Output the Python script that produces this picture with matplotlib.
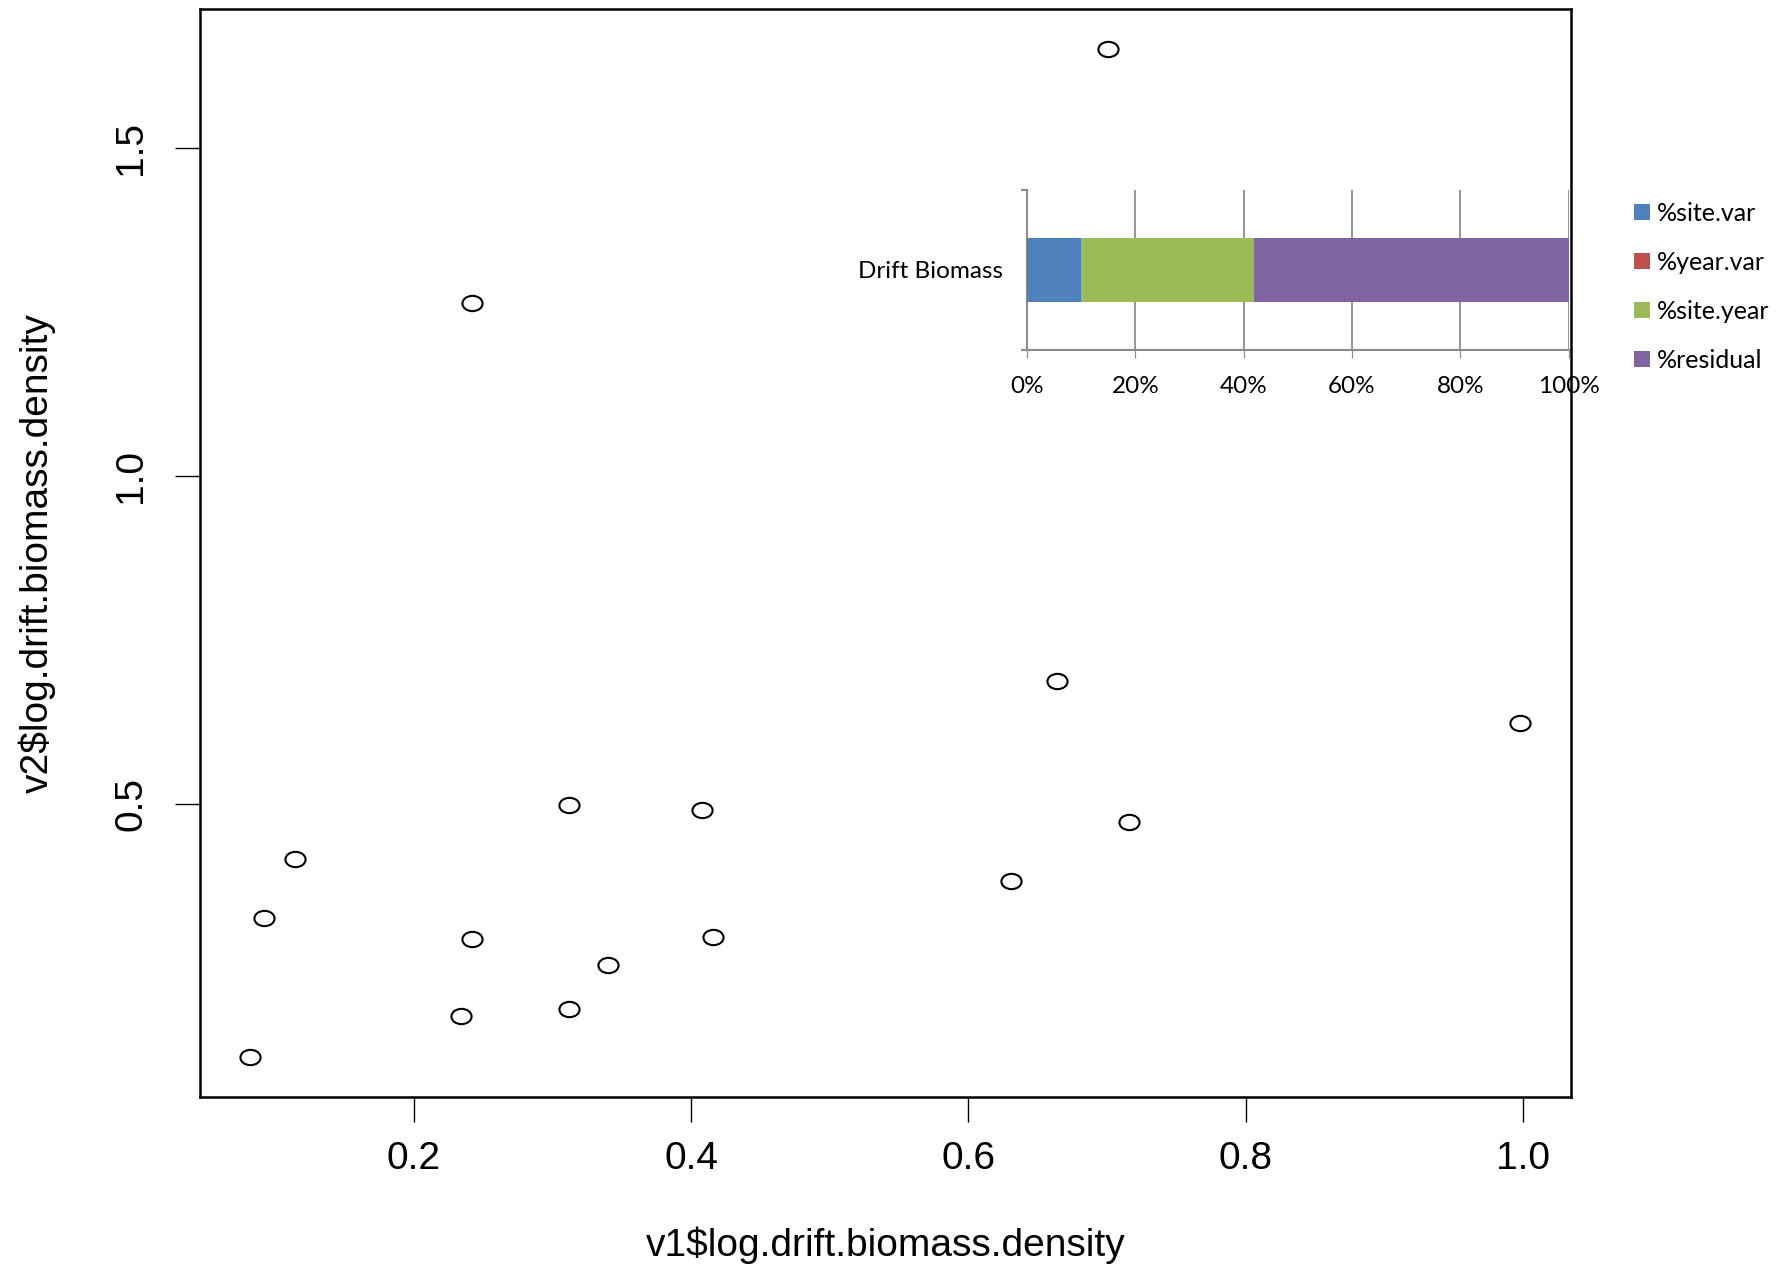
import matplotlib
matplotlib.use("Agg")
import matplotlib.pyplot as plt
from matplotlib.path import Path

# scatter: log drift biomass density, period 1 vs period 2
v1 = [0.701, 0.242, 0.664, 0.998, 0.312, 0.408, 0.716, 0.114,
      0.631, 0.092, 0.242, 0.416, 0.340, 0.234, 0.312, 0.082]
v2 = [1.650, 1.263, 0.687, 0.624, 0.498, 0.491, 0.472, 0.417,
      0.383, 0.326, 0.295, 0.298, 0.255, 0.177, 0.187, 0.115]

# variance partition for drift biomass (percent)
var_labels = ["%site.var", "%year.var", "%site.year", "%residual"]
var_values = [10, 0, 32, 58]
var_colors = ["#4F81BD", "#C0504D", "#9BBB59", "#8064A2"]
pct_ticks = [0, 20, 40, 60, 80, 100]

W, H = 1777, 1268
fig = plt.figure(figsize=(W / 100, H / 100), dpi=100)

ax = fig.add_axes([199.5 / W, 1 - 1097 / H, 1371.5 / W, 1088 / H])
circ = Path.unit_circle()
ell = Path(circ.vertices * [1, 0.76], circ.codes)
ax.plot(v1, v2, linestyle="none", marker=ell, markersize=14.5,
        markerfacecolor="none", markeredgecolor="black", markeredgewidth=1.5)

xr = max(v1) - min(v1)
yr = max(v2) - min(v2)
ax.set_xlim(min(v1) - 0.04 * xr, max(v1) + 0.04 * xr)
ax.set_ylim(min(v2) - 0.04 * yr, max(v2) + 0.04 * yr)
ax.set_xticks([0.2, 0.4, 0.6, 0.8, 1.0])
ax.set_yticks([0.5, 1.0, 1.5])
ax.set_xticklabels(["0.2", "0.4", "0.6", "0.8", "1.0"])
ax.set_yticklabels(["0.5", "1.0", "1.5"], rotation=90, va="center")
ax.tick_params(length=18, width=1.0, labelsize=28, colors="black")
ax.tick_params(axis="x", pad=14)
ax.tick_params(axis="y", pad=18)
for lab in ax.get_xticklabels() + ax.get_yticklabels():
    lab.set_family("Liberation Sans")
for s in ax.spines.values():
    s.set_linewidth(1.8)
ax.set_xlabel("v1$log.drift.biomass.density", fontsize=28,
              family="Liberation Sans", va="center")
ax.set_ylabel("v2$log.drift.biomass.density", fontsize=28,
              family="Liberation Sans", va="center")
ax.xaxis.set_label_coords(0.5, -0.136)
ax.yaxis.set_label_coords(-0.1185, 0.5)

# inset stacked bar
ins = fig.add_axes([1027 / W, 1 - 350 / H, 541.6 / W, 160 / H])
left = 0
handles = []
for lab, val, col in zip(var_labels, var_values, var_colors):
    b = ins.barh(0, val, left=left, height=0.4, color=col, label=lab, zorder=3)
    handles.append(b)
    left += val
ins.set_xlim(0, 100)
ins.set_ylim(-0.5, 0.5)
ins.set_xticks(pct_ticks)
ins.set_xticklabels([f"{t}%" for t in pct_ticks])
ins.set_yticks([0])
ins.set_yticklabels(["Drift Biomass"])
ins.grid(axis="x", color="#8c8c8c", linewidth=1.3, zorder=0)
ins.set_axisbelow(True)
for side in ["top", "right"]:
    ins.spines[side].set_visible(False)
for side in ["left", "bottom"]:
    ins.spines[side].set_color("#8c8c8c")
    ins.spines[side].set_linewidth(1.5)
ins.tick_params(axis="x", length=6, color="#8c8c8c", labelsize=17.5, pad=13)
ins.tick_params(axis="y", length=0, labelsize=17.5, pad=17)
for lab in ins.get_xticklabels() + ins.get_yticklabels():
    lab.set_family("Lato")
# small end ticks on the category axis
for yv in (-0.5, 0.5):
    ins.plot([-0.9, 0], [yv, yv], color="#8c8c8c", linewidth=1.5,
             clip_on=False, zorder=4)
ins.patch.set_alpha(0)

fig.legend(handles=handles, labels=var_labels, loc="upper left",
           bbox_to_anchor=(1634 / W, 1 - 202 / H), frameon=False,
           prop={"family": "Lato", "size": 18}, handlelength=0.62,
           handleheight=0.62, handletextpad=0.3, labelspacing=1.04,
           borderaxespad=0, borderpad=0)

fig.savefig("out.png", dpi=100, facecolor="white")
